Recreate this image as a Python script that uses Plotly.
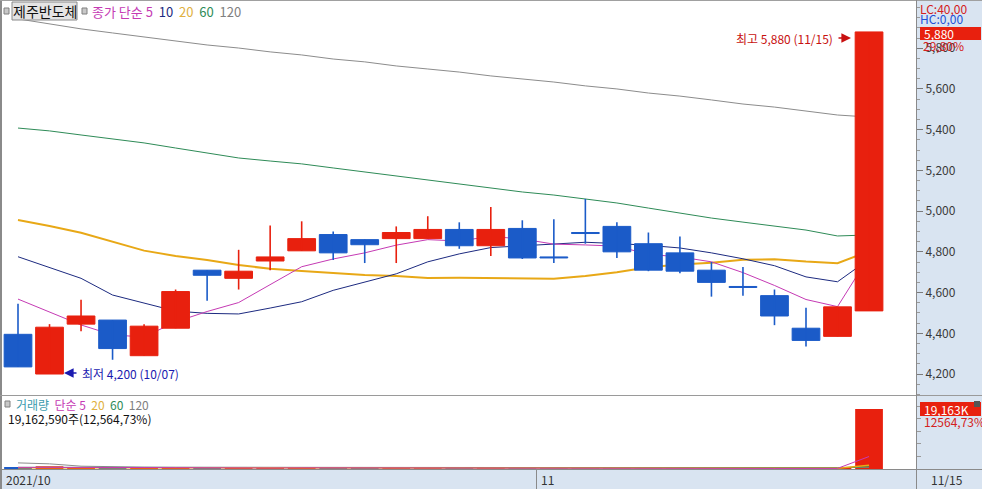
import plotly.graph_objects as go

# ---------------- data ----------------
dates = ["10/06","10/07","10/08","10/12","10/13","10/14","10/15","10/18","10/19","10/20",
         "10/21","10/22","10/25","10/26","10/27","10/28","10/29","11/01","11/02","11/03",
         "11/04","11/05","11/08","11/09","11/10","11/11","11/12","11/15"]
opens  = [4395,4200,4445,4465,4290,4425,4710,4670,4755,4805,4885,4860,4865,4865,4910,4830,4915,4775,4895,4925,4840,4795,4710,4630,4585,4425,4385,4510]
highs  = [4545,4445,4565,4465,4445,4615,4710,4810,4930,4950,4900,4860,4925,4975,4945,5020,4955,4960,5060,4945,4895,4875,4750,4725,4615,4525,4530,5880]
lows   = [4235,4200,4410,4270,4290,4425,4560,4615,4710,4805,4760,4745,4745,4865,4815,4780,4765,4745,4840,4770,4705,4695,4580,4585,4440,4335,4385,4510]
closes = [4235,4430,4485,4325,4435,4605,4685,4705,4775,4865,4795,4835,4895,4910,4830,4910,4770,4770,4890,4800,4710,4705,4650,4625,4485,4365,4530,5880]

ma5   = [4568,4505,4441,4392,4382,4456,4507,4551,4641,4727,4765,4795,4833,4860,4853,4876,4863,4838,4834,4828,4788,4775,4751,4698,4635,4566,4531,4777]
ma10  = [4776,4723,4670,4588,4547,4509,4498,4495,4524,4555,4611,4651,4692,4751,4790,4821,4829,4836,4847,4841,4832,4819,4795,4766,4732,4677,4653,4764]
ma20  = [4956,4927,4894,4850,4806,4780,4760,4735,4717,4706,4695,4686,4681,4672,4673,4672,4670,4668,4681,4700,4724,4738,4746,4761,4764,4752,4744,4803]
ma60  = [5408,5394,5374,5354,5335,5310,5286,5261,5246,5232,5212,5192,5173,5153,5133,5114,5094,5079,5060,5040,5015,4990,4966,4946,4927,4907,4878,4883]
ma120 = [5944,5919,5895,5875,5855,5836,5816,5801,5782,5767,5747,5733,5713,5698,5683,5664,5649,5634,5615,5600,5580,5565,5546,5526,5511,5492,5472,5462]

volumes = [612000,858000,344000,295000,263000,405000,318000,247000,396000,512000,287000,201000,236000,268000,
           187000,342000,276000,198000,334000,226000,181000,165000,188000,139000,224000,257000,152510,19162590]
vma5   = [520000,560000,480000,450000,470000,430000,330000,300000,330000,380000,350000,330000,320000,300000,
          240000,250000,260000,240000,270000,250000,240000,220000,220000,180000,190000,190000,192000,3987000]
vma20  = [420000,430000,420000,410000,400000,400000,390000,380000,380000,390000,380000,370000,360000,350000,
          340000,340000,330000,320000,320000,310000,300000,290000,280000,270000,260000,250000,245000,1197000]
vma60  = [520000,520000,510000,510000,500000,500000,490000,490000,480000,480000,470000,470000,460000,460000,
          450000,450000,440000,440000,430000,430000,420000,420000,410000,410000,400000,400000,395000,710000]
vma120 = [1950000,1650000,900000,700000,600000,560000,540000,520000,510000,500000,490000,480000,470000,460000,
          450000,450000,440000,440000,430000,430000,420000,420000,410000,410000,400000,400000,395000,550000]

price_ticks = [4200,4400,4600,4800,5000,5200,5400,5600,5800]
price_tick_text = ["4,200","4,400","4,600","4,800","5,000","5,200","5,400","5,600","5,800"]

# ---------------- style ----------------
W, H = 982, 489
RED = "#E8200E"
BLUE = "#1B5BC8"
C_MA5, C_MA10, C_MA20, C_MA60, C_MA120 = "#C53AB4", "#1C2A80", "#E8A816", "#2E8B57", "#8C8C8C"
PANEL = "#D9E4F1"
FONT = "'Liberation Sans Narrow', 'Noto Sans CJK KR', sans-serif"

def px(x):
    return x / W

def py(y):
    return 1 - y / H

n = len(closes)
xs = list(range(n))
up = [c >= o for o, c in zip(opens, closes)]
colors = [RED if u else BLUE for u in up]
bases = [min(o, c) for o, c in zip(opens, closes)]
heights = [max(abs(c - o), 4) for o, c in zip(opens, closes)]

fig = go.Figure()

# moving averages (base layer, behind candles)
for vals, col, w in [(ma120, C_MA120, 1), (ma60, C_MA60, 1), (ma20, C_MA20, 2), (ma10, C_MA10, 1), (ma5, C_MA5, 1)]:
    fig.add_trace(go.Scatter(x=xs, y=vals, mode="lines", line=dict(color=col, width=w),
                             xaxis="x", yaxis="y", hoverinfo="skip"))

# candle bodies on overlay axis
fig.add_trace(go.Bar(x=xs, y=heights, base=bases, width=0.88,
                     marker=dict(color=colors, line=dict(color=colors, width=1)),
                     xaxis="x", yaxis="y3", hoverinfo="skip"))
# wicks
for direction, col in [(True, RED), (False, BLUE)]:
    wx, wy = [], []
    for i in range(n):
        if up[i] == direction:
            wx += [i, i, None]
            wy += [lows[i], highs[i], None]
    fig.add_trace(go.Scatter(x=wx, y=wy, mode="lines", line=dict(color=col, width=1.6),
                             xaxis="x", yaxis="y3", hoverinfo="skip"))

# volume
fig.add_trace(go.Bar(x=xs, y=volumes, width=0.88, marker=dict(color=colors, line=dict(width=0)),
                     xaxis="x", yaxis="y2", hoverinfo="skip"))
for vals, col, w in [(vma120, C_MA120, 1), (vma60, C_MA60, 1), (vma20, C_MA20, 1.5), (vma5, C_MA5, 1)]:
    fig.add_trace(go.Scatter(x=xs, y=vals, mode="lines", line=dict(color=col, width=w),
                             xaxis="x", yaxis="y2", hoverinfo="skip"))

# ---------------- axes ----------------
x_range = [-0.476, 28.49]
p_range = [4097, 6027]
v_range = [0, 22995000]
main_dom = [py(395), py(2)]
vol_dom = [py(469), py(397)]

shapes = [
    # right axis panel and date strip backgrounds
    dict(type="rect", xref="paper", yref="paper", x0=px(916), x1=1, y0=0, y1=1,
         fillcolor=PANEL, line=dict(width=0), layer="below"),
    dict(type="rect", xref="paper", yref="paper", x0=0, x1=1, y0=0, y1=py(470),
         fillcolor=PANEL, line=dict(width=0), layer="below"),
    # borders
    dict(type="line", xref="paper", yref="paper", x0=px(1), x1=px(1), y0=0, y1=1, line=dict(color="#8A8A8A", width=2)),
    dict(type="line", xref="paper", yref="paper", x0=0, x1=1, y0=py(0.5), y1=py(0.5), line=dict(color="#A0A0A0", width=1)),
    dict(type="line", xref="paper", yref="paper", x0=0, x1=1, y0=py(395.5), y1=py(395.5), line=dict(color="#9A9A9A", width=1)),
    dict(type="line", xref="paper", yref="paper", x0=0, x1=1, y0=py(469.5), y1=py(469.5), line=dict(color="#8A8A8A", width=1)),
    dict(type="line", xref="paper", yref="paper", x0=px(916.5), x1=px(916.5), y0=0, y1=1, line=dict(color="#8A8A8A", width=1)),
    dict(type="line", xref="paper", yref="paper", x0=px(536.5), x1=px(536.5), y0=0, y1=py(470), line=dict(color="#8A8A8A", width=1)),
    # legend square icons
    dict(type="rect", xref="paper", yref="paper", x0=px(4), x1=px(9), y0=py(14), y1=py(8),
         fillcolor="#C8C8C8", line=dict(color="#808080", width=1)),
    dict(type="rect", xref="paper", yref="paper", x0=px(82), x1=px(87), y0=py(14), y1=py(8),
         fillcolor="#C8C8C8", line=dict(color="#808080", width=1)),
    dict(type="rect", xref="paper", yref="paper", x0=px(5), x1=px(10), y0=py(407), y1=py(401),
         fillcolor="#C8C8C8", line=dict(color="#808080", width=1)),
    # stock name button
    dict(type="rect", xref="paper", yref="paper", x0=px(12), x1=px(77), y0=py(20), y1=py(2),
         fillcolor="#E4E4E4", line=dict(color="#8A8A8A", width=1)),
    # red value boxes
    dict(type="rect", xref="paper", yref="paper", x0=px(920), x1=px(981), y0=py(40), y1=py(27),
         fillcolor=RED, line=dict(width=0)),
    dict(type="rect", xref="paper", yref="paper", x0=px(920), x1=px(981), y0=py(416), y1=py(402),
         fillcolor=RED, line=dict(width=0)),
    dict(type="rect", xref="paper", yref="paper", x0=px(974), x1=px(980), y0=py(407), y1=py(401),
         fillcolor="#555555", line=dict(width=0)),
]

def ann(x, y, text, color="#222222", size=12, anchor="left"):
    return dict(x=px(x), y=py(y), xref="paper", yref="paper", text=text, showarrow=False,
                xanchor=anchor, yanchor="middle", font=dict(color=color, size=size, family=FONT))

legend_main = ("<span style='color:%s'>종가 단순 5</span>  <span style='color:%s'>10</span>  "
               "<span style='color:%s'>20</span>  <span style='color:%s'>60</span>  "
               "<span style='color:%s'>120</span>") % (C_MA5, C_MA10, "#E0B040", C_MA60, "#808080")
legend_vol = ("<span style='color:#3A9AAE'>거래량</span>  <span style='color:%s'>단순 5</span>  "
              "<span style='color:%s'>20</span>  <span style='color:%s'>60</span>  "
              "<span style='color:%s'>120</span>") % (C_MA5, "#E0B040", C_MA60, "#808080")

annotations = [
    ann(44.5, 11, "제주반도체", "#111111", 14, "center"),
    ann(90, 11, legend_main, size=13),
    ann(918, 8, "LC:40,00", "#D42020", 12),
    ann(918, 19, "HC:0,00", "#2050D8", 12),
    ann(922, 33.5, "5,880", "#FFFFFF", 12),
    ann(921, 45, "29,80%", "#D42020", 12),
    ann(835, 38, "최고 5,880 (11/15)", "#C81010", 12, "right"),
    ann(80, 373, "최저 4,200 (10/07)", "#1A1AB0", 12),
    ann(14, 404, legend_vol, size=12),
    ann(6, 418, "19,162,590주(12,564,73%)", "#111111", 12),
    ann(922, 409, "19,163K", "#FFFFFF", 12),
    ann(922, 421, "12564,73%", "#D42020", 12),
    ann(4, 479, "2021/10", "#333333", 12),
    ann(539, 479, "11", "#333333", 12),
    ann(929, 479, "11/15", "#333333", 12),
    # arrows
    dict(x=px(851), y=py(38), xref="paper", yref="paper", ax=-14, ay=0, text="", showarrow=True,
         arrowhead=2, arrowsize=1.2, arrowwidth=1.6, arrowcolor="#C81010"),
    dict(x=px(64), y=py(373), xref="paper", yref="paper", ax=14, ay=0, text="", showarrow=True,
         arrowhead=2, arrowsize=1.2, arrowwidth=1.6, arrowcolor="#1A1AB0"),
]

fig.update_layout(
    width=W, height=H, margin=dict(l=0, r=0, t=0, b=0),
    paper_bgcolor="white", plot_bgcolor="white",
    showlegend=False, barmode="overlay", hovermode=False,
    font=dict(family=FONT, size=12, color="#333333"),
    xaxis=dict(domain=[px(3), px(916)], range=x_range, showticklabels=False, showgrid=False,
               zeroline=False, ticks="", fixedrange=True, anchor="y2"),
    yaxis=dict(domain=main_dom, range=p_range, side="right", anchor="x",
               tickvals=price_ticks, ticktext=price_tick_text, ticks="outside", ticklen=6,
               tickcolor="#7A7A7A", showgrid=False, zeroline=False, showline=True, linecolor="#8A8A8A",
               tickfont=dict(size=12, color="#3A3A3A", family=FONT),
               minor=dict(tickmode="linear", tick0=0, dtick=50, ticks="outside", ticklen=3, tickcolor="#9A9A9A"),
               fixedrange=True),
    yaxis3=dict(overlaying="y", range=p_range, visible=False, fixedrange=True),
    yaxis2=dict(domain=vol_dom, range=v_range, side="right", anchor="x", showticklabels=False,
                ticks="outside", ticklen=4, tickcolor="#9A9A9A", dtick=4000000, showgrid=False,
                zeroline=False, showline=True, linecolor="#8A8A8A", fixedrange=True),
    shapes=shapes, annotations=annotations,
)

fig.write_html("out.html", config={"displayModeBar": False},
               post_script="document.body.style.margin='0px';document.body.style.overflow='hidden';")
